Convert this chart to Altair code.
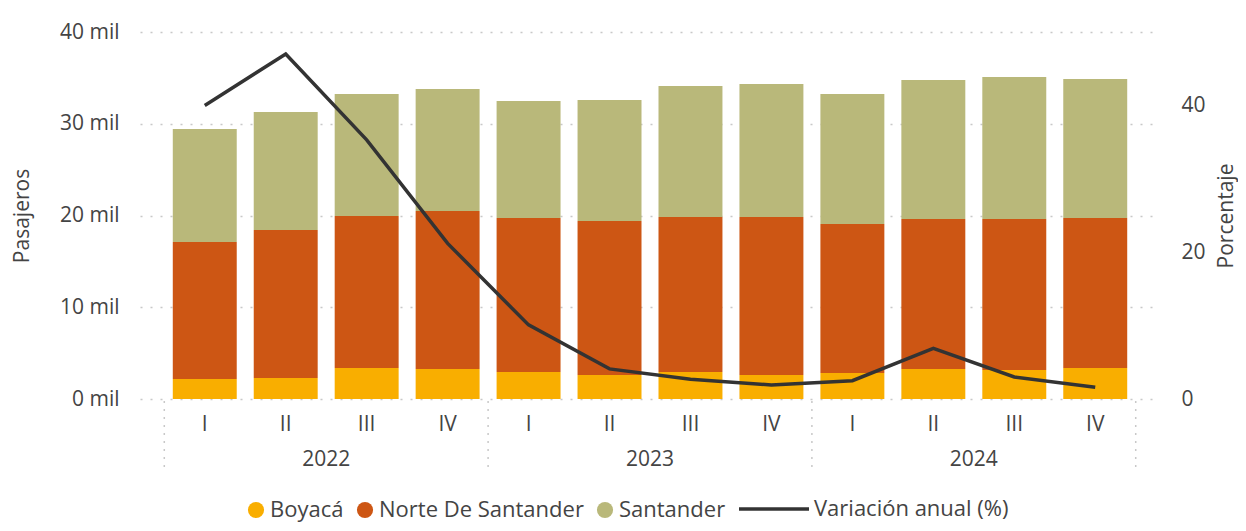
import altair as alt
import pandas as pd

years = ["2022", "2022", "2022", "2022", "2023", "2023", "2023", "2023", "2024", "2024", "2024", "2024"]
quarters = ["I", "II", "III", "IV", "I", "II", "III", "IV", "I", "II", "III", "IV"]
boyaca = [2180, 2290, 3380, 3270, 2940, 2620, 2940, 2620, 2830, 3270, 3160, 3380]
norte = [14930, 16130, 16570, 17220, 16790, 16780, 16900, 17220, 16240, 16350, 16460, 16350]
santander = [12320, 12860, 13290, 13300, 12750, 13190, 14270, 14490, 14170, 15150, 15480, 15150]
variacion = [40.0, 47.0, 35.3, 21.2, 10.1, 4.1, 2.7, 1.9, 2.5, 6.9, 3.0, 1.6]

series_names = ["Boyacá", "Norte De Santander", "Santander"]
series_colors = ["#F9AE00", "#CD5614", "#B9B87A"]
line_name = "Variación anual (%)"
year_list = ["2022", "2023", "2024"]

keys = [f"{y}-{q}" for y, q in zip(years, quarters)]

rows = []
for i, k in enumerate(keys):
    for j, (name, vals) in enumerate(zip(series_names, [boyaca, norte, santander])):
        rows.append({"key": k, "Departamento": name, "Pasajeros": vals[i], "orden": j})
bars_df = pd.DataFrame(rows)
line_df = pd.DataFrame({"key": keys, "Porcentaje": variacion, "serie": [line_name] * len(keys)})
year_df = pd.DataFrame({"key": [f"{y}-II" for y in year_list], "year": year_list})
sep_start_df = pd.DataFrame({"key": [f"{y}-I" for y in year_list]})
sep_end_df = pd.DataFrame({"key": [f"{year_list[-1]}-IV"]})

W, H = 1020, 367
FONT = "Open Sans"
TXT = "#444444"

xscale = alt.Scale(domain=keys, paddingInner=0, paddingOuter=0.3)
xaxis = alt.Axis(
    title=None, labelExpr="split(datum.value, '-')[1]", labelAngle=0,
    ticks=False, domain=False, grid=False, labelPadding=14,
    labelFontSize=21, labelColor=TXT, labelFont=FONT,
)

bars = alt.Chart(bars_df).mark_bar(width=alt.RelativeBandSize(0.79)).encode(
    x=alt.X("key:N", scale=xscale, axis=xaxis, sort=keys),
    y=alt.Y("Pasajeros:Q", stack="zero",
            scale=alt.Scale(domain=[0, 40000], nice=False),
            axis=alt.Axis(values=[0, 10000, 20000, 30000, 40000],
                          labelExpr="datum.value / 1000 + ' mil'",
                          title="Pasajeros", titleX=-118, titleY=H / 2,
                          titleAngle=270, titleBaseline="middle", titleAlign="center",
                          grid=True, gridDash=[2, 8], gridColor="#C8C8C8", gridWidth=1.5,
                          domain=False, ticks=False, labelPadding=21,
                          labelFontSize=21, titleFontSize=21, titleFontWeight="normal",
                          labelColor=TXT, titleColor=TXT, labelFont=FONT, titleFont=FONT)),
    fill=alt.Fill("Departamento:N",
                  scale=alt.Scale(domain=series_names, range=series_colors),
                  legend=alt.Legend(title=None, orient="none", legendX=105, legendY=467,
                                    direction="horizontal", symbolType="circle",
                                    symbolSize=260, symbolStrokeWidth=0,
                                    labelFontSize=22, labelColor=TXT, labelFont=FONT,
                                    labelLimit=0, labelOffset=3, columnPadding=10,
                                    padding=0)),
    order=alt.Order("orden:Q"),
)

line = alt.Chart(line_df).mark_line(strokeWidth=3.5).encode(
    x=alt.X("key:N", scale=xscale, sort=keys),
    y=alt.Y("Porcentaje:Q",
            scale=alt.Scale(domain=[0, 50], nice=False),
            axis=alt.Axis(orient="right", values=[0, 20, 40], title="Porcentaje",
                          titleX=66, titleY=H / 2, titleAngle=270,
                          titleBaseline="middle", titleAlign="center",
                          grid=False, domain=False, ticks=False, labelPadding=21,
                          labelFontSize=21, titleFontSize=21, titleFontWeight="normal",
                          labelColor=TXT, titleColor=TXT, labelFont=FONT, titleFont=FONT)),
    stroke=alt.Stroke("serie:N", scale=alt.Scale(domain=[line_name], range=["#333333"]),
                      legend=alt.Legend(title=None, orient="none", legendX=597, legendY=440,
                                        symbolType="stroke", symbolSize=4900,
                                        symbolStrokeWidth=3.5, labelFontSize=22,
                                        labelColor=TXT, labelFont=FONT, labelOffset=3,
                                        labelLimit=0, padding=0)),
)

year_text = alt.Chart(year_df).mark_text(
    fontSize=21, color=TXT, font=FONT, baseline="middle", align="center"
).encode(
    x=alt.X("key:N", scale=xscale, sort=keys, bandPosition=1),
    y=alt.value(H + 61),
    text="year:N",
)

sep_rule_style = dict(color="#C8C8C8", strokeDash=[2, 6], strokeWidth=1.5)
sep_start = alt.Chart(sep_start_df).mark_rule(**sep_rule_style).encode(
    x=alt.X("key:N", scale=xscale, sort=keys, bandPosition=0),
    y=alt.value(H + 2), y2=alt.value(H + 73),
)
sep_end = alt.Chart(sep_end_df).mark_rule(**sep_rule_style).encode(
    x=alt.X("key:N", scale=xscale, sort=keys, bandPosition=1),
    y=alt.value(H + 2), y2=alt.value(H + 73),
)

chart = alt.layer(bars, line, year_text, sep_start, sep_end).resolve_scale(
    y="independent"
).properties(
    width=W, height=H,
    autosize=alt.AutoSizeParams(type="none"),
    padding={"left": 132, "top": 24, "right": 78, "bottom": 124},
).configure(font=FONT, view=alt.ViewConfig(stroke=None))

chart.save("out.html", embed_options={"renderer": "svg", "actions": False})
